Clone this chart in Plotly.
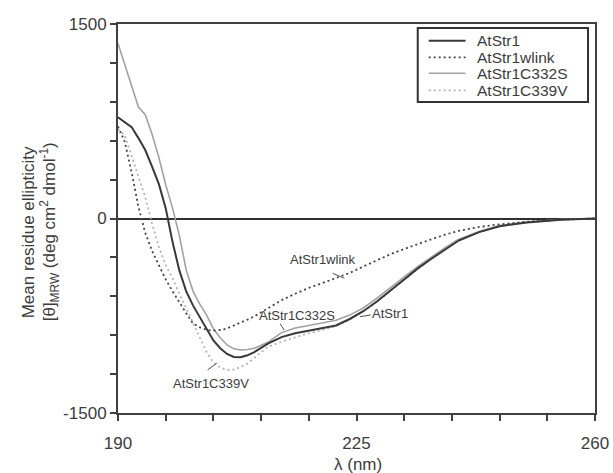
import plotly.graph_objects as go

# ---------------- data ----------------
wavelength = [190, 191, 192, 193, 194, 195, 196, 197, 198, 199, 200, 201, 202, 203, 204,
              205, 206, 207, 208, 209, 210, 212, 214, 216, 218, 220, 222, 224, 226, 228,
              230, 232, 234, 236, 238, 240, 243, 246, 250, 255, 260]

atstr1 = [780, 745, 705, 620, 528, 400, 265, 80, -180, -400, -560, -670, -760, -860, -940,
          -1000, -1045, -1068, -1070, -1055, -1030, -965, -915, -885, -865, -850, -825, -775,
          -715, -640, -555, -470, -385, -310, -240, -170, -105, -60, -30, -10, 0]

atstr1_wlink = [710, 590, 355, 90, -110, -250, -360, -470, -560, -650, -730, -810, -840, -858,
                -865, -860, -848, -825, -805, -780, -755, -690, -630, -580, -535, -498, -462,
                -420, -370, -320, -275, -235, -195, -160, -125, -95, -65, -45, -25, -8, 0]

atstr1_c332s = [1350, 1185, 1020, 860, 800, 650, 470, 260, 80, -130, -395, -560, -660, -745,
                -850, -920, -975, -1005, -1014, -1010, -1000, -955, -880, -845, -825, -805,
                -785, -745, -690, -615, -530, -450, -370, -295, -225, -160, -100, -55, -28, -8, 0]

atstr1_c339v = [690, 640, 480, 320, 165, -40, -220, -360, -460, -580, -690, -800, -920, -1030,
                -1110, -1150, -1168, -1165, -1145, -1118, -1075, -990, -950, -915, -885, -860,
                -830, -780, -715, -640, -555, -470, -385, -305, -235, -168, -103, -58, -28, -9, 0]

series_names = ["AtStr1", "AtStr1wlink", "AtStr1C332S", "AtStr1C339V"]
series_values = [atstr1, atstr1_wlink, atstr1_c332s, atstr1_c339v]

x_tick_vals = [190, 225, 260]
x_tick_text = ["190", "225", "260"]
y_tick_vals = [-1500, 0, 1500]
y_tick_text = ["-1500", "0", "1500"]

# ---------------- styles ----------------
styles = {
    "AtStr1":      dict(color="#383838", width=2.0, dash="solid"),
    "AtStr1wlink": dict(color="#454545", width=1.8, dash="2px,3px"),
    "AtStr1C332S": dict(color="#a2a2a2", width=1.6, dash="solid"),
    "AtStr1C339V": dict(color="#b4b4b4", width=1.8, dash="2px,3px"),
}
TEXT = "#3c3c3c"
AXIS = "#404040"
FONT = "Liberation Sans, Arial, sans-serif"

# horizontal compensation observed in the rendered picture
SX = 621 / 613
W, H = round(613 * SX), 473
L, R, T, B = 116, 595, 24, 413          # plot area in window pixels


def px(xp):
    return (xp - L) / (R - L)


def py(yp):
    return (B - yp) / (B - T)


fig = go.Figure()
draw_order = ["AtStr1C339V", "AtStr1C332S", "AtStr1wlink", "AtStr1"]
for name in draw_order:
    vals = series_values[series_names.index(name)]
    fig.add_trace(go.Scatter(x=wavelength, y=vals, mode="lines", name=name,
                             line=styles[name], showlegend=False))

# curve labels with leader lines (data coordinates)
curve_labels = [
    ("AtStr1wlink", 220.1, -320, (221.5, -422), (223.2, -461)),
    ("AtStr1C332S", 216.2, -749, (213.8, -813), (214.4, -860)),
    ("AtStr1", 229.9, -731, (225.5, -757), (227.1, -744)),
    ("AtStr1C339V", 203.7, -1271, (203.15, -1168), (204.5, -1116)),
]
for text, tx, ty, p0, p1 in curve_labels:
    fig.add_annotation(x=tx, y=ty, xref="x", yref="y", text=text, showarrow=False,
                       font=dict(size=13, color=TEXT, family=FONT))
    fig.add_shape(type="line", xref="x", yref="y", x0=p0[0], y0=p0[1], x1=p1[0], y1=p1[1],
                  line=dict(color="#505050", width=1))

# manual legend box
fig.add_shape(type="rect", xref="paper", yref="paper", x0=px(417), x1=px(588),
              y0=py(102), y1=py(28), line=dict(color="#333333", width=2), fillcolor="white")
legend_y = [40.7, 57.3, 73.3, 90.3]
for name, ly in zip(series_names, legend_y):
    st = styles[name]
    fig.add_shape(type="line", xref="paper", yref="paper", x0=px(428), x1=px(465),
                  y0=py(ly), y1=py(ly), line=dict(color=st["color"], width=st["width"], dash=st["dash"]))
    fig.add_annotation(x=px(474), y=py(ly), xref="paper", yref="paper", text=name,
                       showarrow=False, xanchor="left", yanchor="middle",
                       font=dict(size=15.5, color=TEXT, family=FONT))

# axis titles
fig.add_annotation(x=px(27), y=py(232), xref="paper", yref="paper", text="Mean residue ellipticity",
                   showarrow=False, textangle=-90, xanchor="center", yanchor="middle",
                   font=dict(size=17, color=TEXT, family=FONT))
fig.add_annotation(x=px(48), y=py(232), xref="paper", yref="paper",
                   text="[θ]<sub>MRW</sub> (deg cm<sup>2</sup> dmol<sup>-1</sup>)",
                   showarrow=False, textangle=-90, xanchor="center", yanchor="middle",
                   font=dict(size=17, color=TEXT, family=FONT))
fig.add_annotation(x=px(357), y=py(464), xref="paper", yref="paper", text="λ (nm)",
                   showarrow=False, xanchor="center", yanchor="middle",
                   font=dict(size=17, color=TEXT, family=FONT))

fig.update_xaxes(range=[190, 260], tickvals=x_tick_vals, ticktext=x_tick_text,
                 showline=True, linecolor=AXIS, linewidth=2, mirror=True,
                 ticks="outside", ticklen=6, tickwidth=1.5, tickcolor=AXIS,
                 minor=dict(tickvals=list(range(190, 261, 7)), ticks="outside", ticklen=6,
                            tickwidth=1.5, tickcolor=AXIS, showgrid=False),
                 showgrid=False, zeroline=False, ticklabelstandoff=8,
                 tickfont=dict(size=17, color=TEXT, family=FONT))
fig.update_yaxes(range=[-1500, 1500], tickvals=y_tick_vals, ticktext=y_tick_text,
                 showline=True, linecolor=AXIS, linewidth=2, mirror=True,
                 ticks="outside", ticklen=6, tickwidth=1.5, tickcolor=AXIS,
                 minor=dict(tickvals=list(range(-1500, 1501, 300)), ticks="outside", ticklen=6,
                            tickwidth=1.5, tickcolor=AXIS, showgrid=False),
                 showgrid=False, zeroline=True, zerolinecolor="#303030", zerolinewidth=1.8,
                 tickfont=dict(size=17, color=TEXT, family=FONT))

fig.update_layout(width=W, height=H,
                  margin=dict(l=round(L * SX), r=W - round(R * SX), t=T, b=H - B),
                  paper_bgcolor="white", plot_bgcolor="white",
                  font=dict(family=FONT, color=TEXT))

# remove the default page margin so the figure fills the window exactly
fig.write_html("out.html", config={"displayModeBar": False},
               post_script="document.body.style.margin='0';document.body.style.overflow='hidden';")
